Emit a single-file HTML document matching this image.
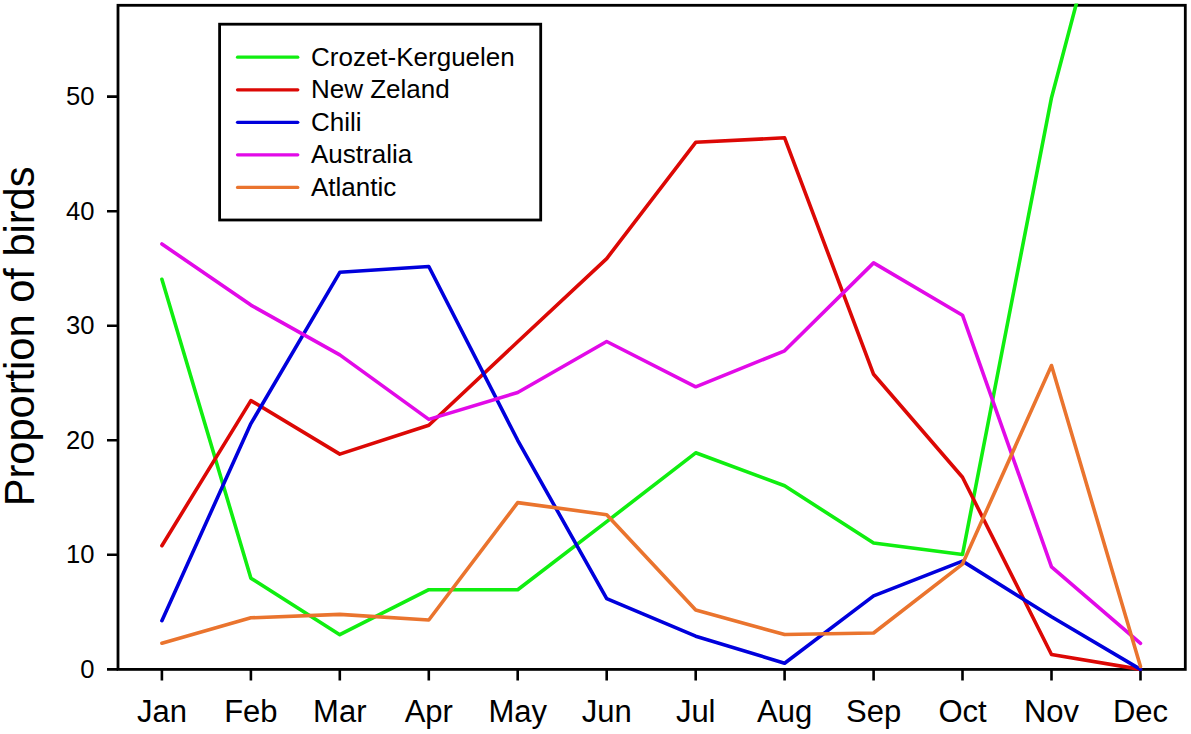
<!DOCTYPE html><html><head><meta charset="utf-8"><style>html,body{margin:0;padding:0;background:#fff;width:1191px;height:734px;overflow:hidden}svg{display:block}text{font-family:"Liberation Sans",sans-serif;fill:#000}</style></head><body>
<svg width="1191" height="734" viewBox="0 0 1191 734">
<defs><clipPath id="c"><rect x="116.5" y="3.5" width="1070.3" height="668.1"/></clipPath></defs>
<g>
<rect x="118.0" y="5.3" width="1067.3" height="664.1" fill="none" stroke="#000" stroke-width="2.8"/>
<path d="M107 669.4H118.0M107 554.8H118.0M107 440.3H118.0M107 325.7H118.0M107 211.2H118.0M107 96.6H118.0M161.9 669.4V680.5M250.9 669.4V680.5M339.8 669.4V680.5M428.8 669.4V680.5M517.7 669.4V680.5M606.7 669.4V680.5M695.7 669.4V680.5M784.6 669.4V680.5M873.6 669.4V680.5M962.5 669.4V680.5M1051.5 669.4V680.5M1140.5 669.4V680.5" stroke="#000" stroke-width="2.6" fill="none"/>
<g clip-path="url(#c)" fill="none" stroke-width="3.6" stroke-linejoin="round" stroke-linecap="round">
<polyline stroke="#10ee10" points="161.9,279.3 250.9,578.2 339.8,634.7 428.8,589.7 517.7,589.7 606.7,521.6 695.7,452.8 784.6,485.8 873.6,543.0 962.5,554.5 1051.5,97.7 1140.5,-239.1"/>
<polyline stroke="#dc0805" points="161.9,545.7 250.9,400.6 339.8,454.1 428.8,425.2 517.7,341.8 606.7,258.6 695.7,142.3 784.6,137.8 873.6,374.3 962.5,477.3 1051.5,654.5 1140.5,669.4"/>
<polyline stroke="#0000dc" points="161.9,620.7 250.9,423.6 339.8,272.3 428.8,266.5 517.7,440.3 606.7,598.6 695.7,636.2 784.6,663.2 873.6,595.9 962.5,561.1 1051.5,616.7 1140.5,669.4"/>
<polyline stroke="#e20ae8" points="161.9,244.0 250.9,305.1 339.8,354.9 428.8,419.4 517.7,392.5 606.7,341.5 695.7,386.8 784.6,350.8 873.6,262.9 962.5,315.2 1051.5,566.8 1140.5,643.3"/>
<polyline stroke="#ea742e" points="161.9,643.2 250.9,617.8 339.8,614.4 428.8,620.0 517.7,502.6 606.7,514.7 695.7,610.1 784.6,634.5 873.6,633.0 962.5,564.1 1051.5,365.5 1140.5,666.5"/>
</g>
<text x="94.5" y="678.0" font-size="25.6" text-anchor="end">0</text>
<text x="94.5" y="563.4" font-size="25.6" text-anchor="end">10</text>
<text x="94.5" y="448.9" font-size="25.6" text-anchor="end">20</text>
<text x="94.5" y="334.3" font-size="25.6" text-anchor="end">30</text>
<text x="94.5" y="219.8" font-size="25.6" text-anchor="end">40</text>
<text x="94.5" y="105.2" font-size="25.6" text-anchor="end">50</text>
<text x="161.9" y="722" font-size="31" text-anchor="middle">Jan</text>
<text x="250.9" y="722" font-size="31" text-anchor="middle">Feb</text>
<text x="339.8" y="722" font-size="31" text-anchor="middle">Mar</text>
<text x="428.8" y="722" font-size="31" text-anchor="middle">Apr</text>
<text x="517.7" y="722" font-size="31" text-anchor="middle">May</text>
<text x="606.7" y="722" font-size="31" text-anchor="middle">Jun</text>
<text x="695.7" y="722" font-size="31" text-anchor="middle">Jul</text>
<text x="784.6" y="722" font-size="31" text-anchor="middle">Aug</text>
<text x="873.6" y="722" font-size="31" text-anchor="middle">Sep</text>
<text x="962.5" y="722" font-size="31" text-anchor="middle">Oct</text>
<text x="1051.5" y="722" font-size="31" text-anchor="middle">Nov</text>
<text x="1140.5" y="722" font-size="31" text-anchor="middle">Dec</text>
<text transform="translate(34.4 336.4) rotate(-90)" font-size="41.6" text-anchor="middle">Proportion of birds</text>
<rect x="219.6" y="24.2" width="321.1" height="195.8" fill="#fff" stroke="#000" stroke-width="2.8"/>
<line x1="237.5" y1="57.2" x2="297.8" y2="57.2" stroke="#10ee10" stroke-width="3.2" stroke-linecap="round"/>
<text x="311" y="65.6" font-size="26">Crozet-Kerguelen</text>
<line x1="237.5" y1="89.8" x2="297.8" y2="89.8" stroke="#dc0805" stroke-width="3.2" stroke-linecap="round"/>
<text x="311" y="98.2" font-size="26">New Zeland</text>
<line x1="237.5" y1="122.3" x2="297.8" y2="122.3" stroke="#0000dc" stroke-width="3.2" stroke-linecap="round"/>
<text x="311" y="130.7" font-size="26">Chili</text>
<line x1="237.5" y1="154.8" x2="297.8" y2="154.8" stroke="#e20ae8" stroke-width="3.2" stroke-linecap="round"/>
<text x="311" y="163.2" font-size="26">Australia</text>
<line x1="237.5" y1="187.4" x2="297.8" y2="187.4" stroke="#ea742e" stroke-width="3.2" stroke-linecap="round"/>
<text x="311" y="195.8" font-size="26">Atlantic</text>
</g></svg></body></html>
